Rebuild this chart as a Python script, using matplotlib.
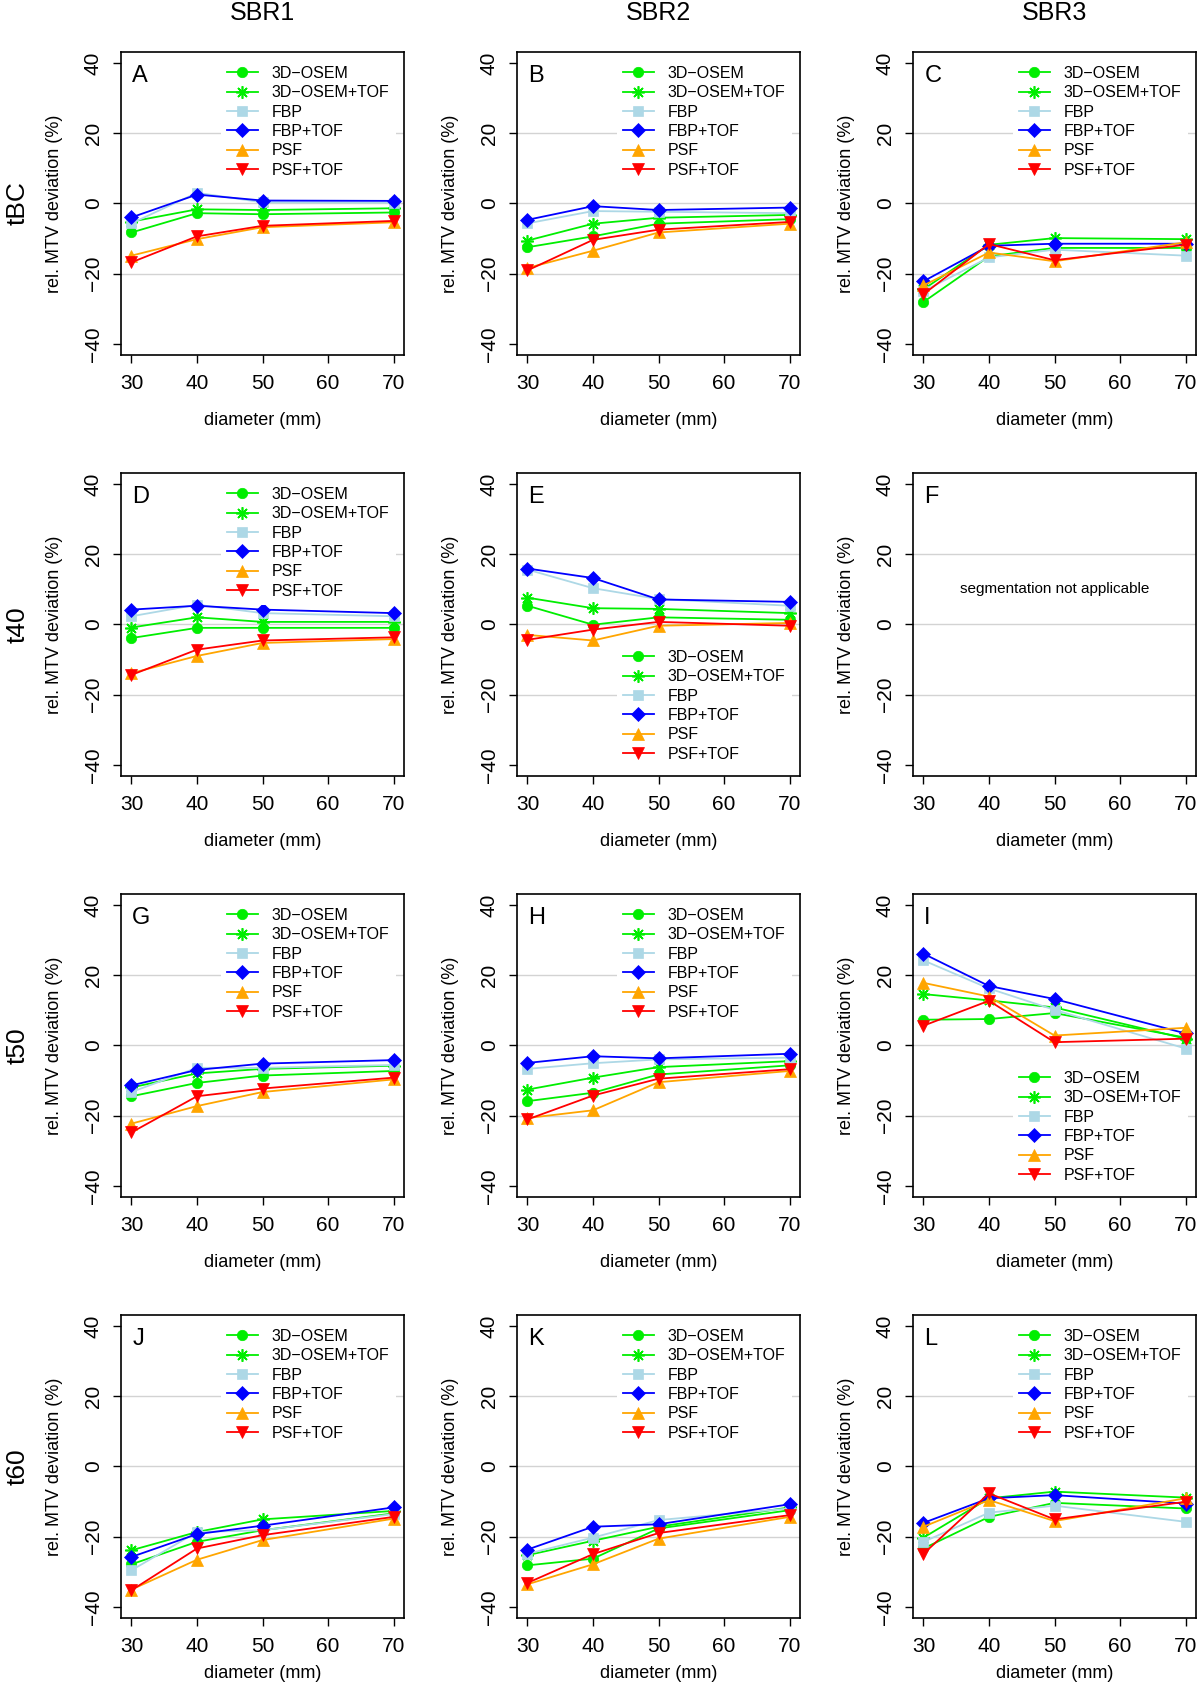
import numpy as np
import matplotlib
matplotlib.use("Agg")
import matplotlib.pyplot as plt

plt.rcParams['font.family'] = ['Liberation Sans', 'DejaVu Sans']

# x values (mm)
diameters = [30, 40, 50, 70]

methods = ["3D\u2212OSEM", "3D\u2212OSEM+TOF", "FBP", "FBP+TOF", "PSF", "PSF+TOF"]
colors = ["#00EE00", "#00EE00", "#ADD8E6", "#0000FF", "#FFA500", "#FF0000"]
markers = ["o", (8, 2, 0), "s", "D", "^", "v"]
msizes = [7.5, 9, 6.5, 7, 8.5, 8.5]

# rows of each panel: 3D-OSEM, 3D-OSEM+TOF, FBP, FBP+TOF, PSF, PSF+TOF
tbc_sbr1 = [[-8.3, -2.8, -3.1, -2.6],
            [-5.2, -1.7, -1.9, -1.4],
            [-5.7, 3.0, 0.3, 0.2],
            [-4.0, 2.5, 0.8, 0.7],
            [-14.9, -10.2, -6.8, -5.4],
            [-16.8, -9.4, -6.4, -5.0]]
tbc_sbr2 = [[-12.5, -9.4, -5.8, -4.5],
            [-10.6, -5.8, -4.1, -3.3],
            [-5.7, -2.2, -2.4, -2.8],
            [-4.7, -0.8, -1.9, -1.2],
            [-18.4, -13.5, -8.3, -5.8],
            [-19.1, -10.4, -7.5, -5.3]]
tbc_sbr3 = [[-28.1, -15.1, -12.7, -12.7],
            [-24.5, -11.8, -9.9, -10.2],
            [-25.0, -15.4, -13.2, -14.9],
            [-22.2, -12.1, -11.5, -11.5],
            [-23.4, -14.0, -16.5, -11.1],
            [-25.9, -11.6, -16.2, -11.8]]

t40_sbr1 = [[-3.9, -1.0, -1.0, -1.0],
            [-0.9, 2.0, 0.7, 0.7],
            [2.3, 5.6, 3.2, 2.3],
            [4.2, 5.3, 4.2, 3.2],
            [-13.9, -9.0, -5.3, -4.2],
            [-14.4, -7.2, -4.6, -3.7]]
t40_sbr2 = [[5.3, -0.1, 2.0, 1.3],
            [7.6, 4.6, 4.4, 3.2],
            [15.6, 10.3, 7.2, 5.3],
            [15.9, 13.2, 7.1, 6.4],
            [-3.0, -4.6, -0.4, 0.4],
            [-4.4, -1.5, 0.7, -0.4]]

t50_sbr1 = [[-14.5, -10.7, -8.6, -7.3],
            [-12.0, -8.0, -6.7, -5.8],
            [-13.3, -6.4, -6.4, -5.6],
            [-11.4, -7.0, -5.2, -4.2],
            [-22.3, -17.3, -13.3, -9.7],
            [-24.8, -14.5, -12.3, -9.2]]
t50_sbr2 = [[-15.9, -13.5, -8.3, -5.7],
            [-12.6, -9.2, -6.2, -4.5],
            [-6.7, -5.1, -4.0, -3.5],
            [-5.0, -3.1, -3.7, -2.4],
            [-20.7, -18.5, -10.5, -7.3],
            [-21.1, -14.3, -9.5, -6.8]]
t50_sbr3 = [[7.3, 7.5, 9.2, 2.2],
            [14.6, 12.8, 10.8, 1.9],
            [24.2, 16.2, 10.1, -0.9],
            [26.1, 16.9, 13.2, 3.4],
            [17.8, 13.9, 2.8, 5.0],
            [5.6, 12.7, 0.9, 1.9]]

t60_sbr1 = [[-27.9, -21.5, -18.2, -13.4],
            [-23.9, -18.7, -15.1, -12.7],
            [-29.6, -18.7, -18.2, -13.6],
            [-25.8, -19.3, -16.9, -11.7],
            [-35.1, -26.6, -21.0, -14.9],
            [-35.3, -23.4, -19.6, -14.4]]
t60_sbr2 = [[-28.2, -26.3, -17.7, -12.5],
            [-25.3, -21.2, -17.2, -11.7],
            [-24.9, -20.3, -15.3, -12.0],
            [-23.7, -17.2, -16.5, -10.8],
            [-33.6, -27.9, -20.6, -14.4],
            [-33.2, -25.0, -19.0, -13.9]]
t60_sbr3 = [[-23.4, -14.4, -10.4, -12.0],
            [-20.3, -9.1, -7.2, -8.9],
            [-21.5, -13.2, -11.2, -15.8],
            [-16.1, -9.1, -8.2, -10.6],
            [-17.2, -9.6, -15.6, -9.1],
            [-24.9, -7.7, -15.1, -10.1]]

col_titles = ["SBR1", "SBR2", "SBR3"]
row_titles = ["tBC", "t40", "t50", "t60"]
letters = ["A", "B", "C", "D", "E", "F", "G", "H", "I", "J", "K", "L"]
panels = [tbc_sbr1, tbc_sbr2, tbc_sbr3,
          t40_sbr1, t40_sbr2, None,
          t50_sbr1, t50_sbr2, t50_sbr3,
          t60_sbr1, t60_sbr2, t60_sbr3]
legend_low = [False, False, False, False, True, False,
              False, False, True, False, False, False]

W, H = 1200, 1685
fig = plt.figure(figsize=(W / 100, H / 100), dpi=100)

box_left = [121, 517, 913]
box_w = 283
box_h = 303.3
box_top0 = 51.7
row_step = 421

for i in range(12):
    r, c = divmod(i, 3)
    top = box_top0 + r * row_step
    ax = fig.add_axes([box_left[c] / W, 1 - (top + box_h) / H, box_w / W, box_h / H])
    ax.set_xlim(28.4, 71.6)
    ax.set_ylim(-43.2, 43.2)
    for g in [-20, 0, 20]:
        ax.axhline(g, color="#D3D3D3", lw=1, zorder=0)
    data = panels[i]
    if data is not None:
        for k in range(6):
            ax.plot(diameters, data[k], color=colors[k], marker=markers[k],
                    markersize=msizes[k], markeredgecolor=colors[k],
                    markeredgewidth=1.2 if k == 1 else 0.5, lw=1.3,
                    label=methods[k], zorder=2 + k)
        loc = "lower right" if legend_low[i] else "upper right"
        leg = ax.legend(loc=loc, fontsize=11.5, frameon=True, framealpha=1,
                        edgecolor="none", facecolor="white", fancybox=False,
                        handlelength=1.9, handletextpad=0.9, labelspacing=0.27,
                        borderaxespad=0.5, borderpad=0.4, numpoints=1)
        leg.set_zorder(20)
    else:
        ax.text(50, 10, "segmentation not applicable", fontsize=11,
                ha="center", va="center")
    ax.text(0.04, 0.955, letters[i], transform=ax.transAxes, fontsize=17,
            ha="left", va="top", zorder=30)
    ax.set_xticks([30, 40, 50, 60, 70])
    ax.set_yticks([-40, -20, 0, 20, 40])
    ax.tick_params(labelsize=15, length=6, width=1)
    ax.tick_params(axis="x", pad=8)
    ax.tick_params(axis="y", pad=7)
    for lab in ax.get_yticklabels():
        lab.set_rotation(90)
        lab.set_va("center")
    ax.set_xlabel("diameter (mm)", fontsize=13)
    ax.set_ylabel("rel. MTV deviation (%)", fontsize=13)
    xl_off = 57 if r < 3 else 47
    ax.xaxis.set_label_coords(0.5, -xl_off / box_h)
    ax.yaxis.set_label_coords(-58 / box_w, 0.5)
    for sp in ax.spines.values():
        sp.set_linewidth(1.2)
    if r == 0:
        fig.text((box_left[c] + box_w / 2) / W, 1 - 13 / H, col_titles[c],
                 fontsize=18, ha="center", va="center")
    if c == 0:
        fig.text(18 / W, 1 - (top + box_h / 2) / H, row_titles[r],
                 fontsize=19, ha="center", va="center", rotation=90)

fig.savefig("out.png", dpi=100)
